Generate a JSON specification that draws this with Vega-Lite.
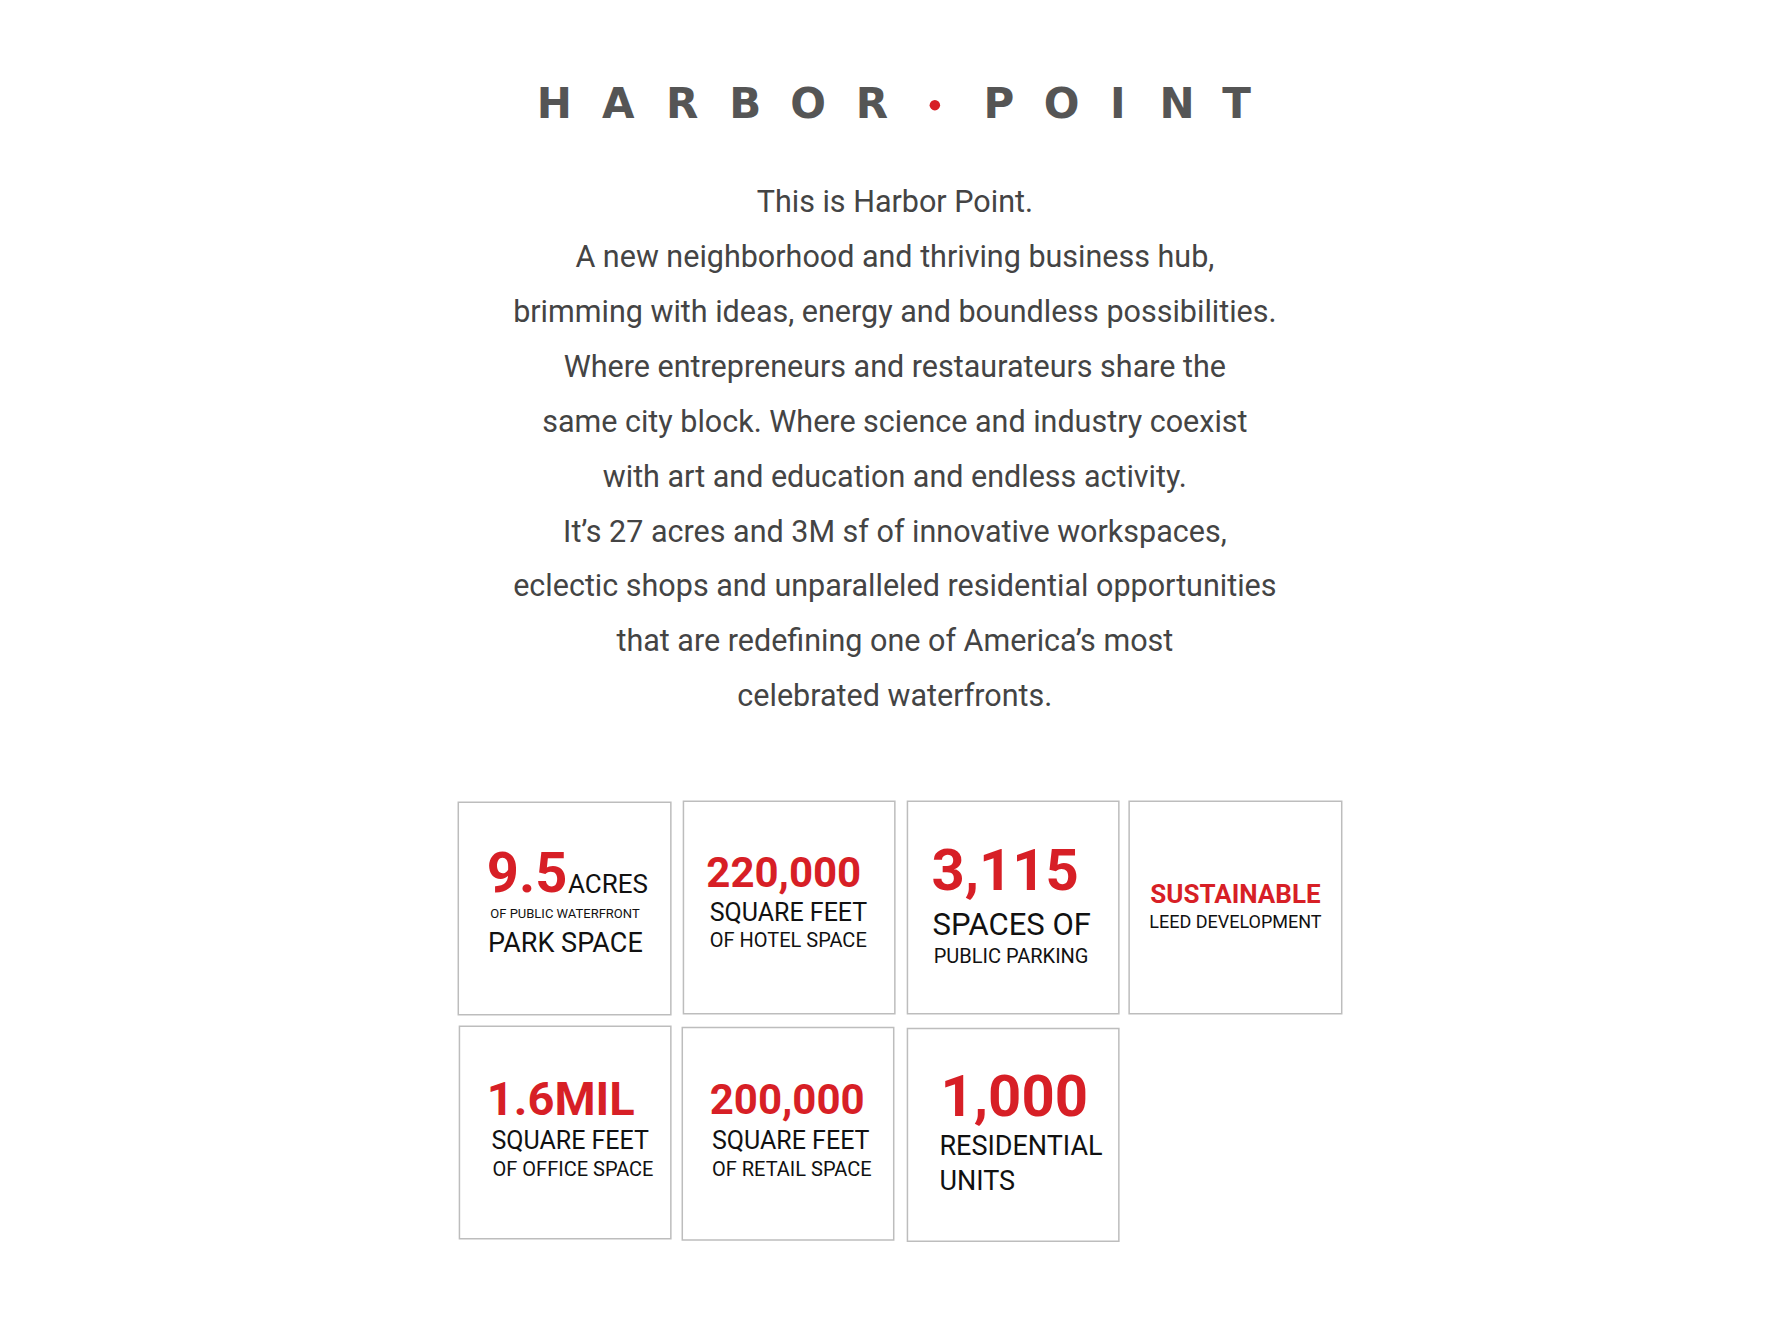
{
  "$schema": "https://vega.github.io/schema/vega-lite/v6.json",
  "width": 1792,
  "height": 1344,
  "autosize": {"type": "fit", "contains": "padding"},
  "padding": 0,
  "background": "white",
  "config": {"view": {"stroke": null}, "text": {"font": "Roboto, sans-serif"}},
  "encoding": {
    "x": {"type": "quantitative", "scale": {"domain": [0, 1568]}, "axis": null},
    "y": {"type": "quantitative", "scale": {"domain": [0, 1176], "reverse": true}, "axis": null}
  },
  "resolve": {"scale": {"size": "independent"}},
  "layer": [
    {
      "data": {"values": [
        {"x0": 401, "x1": 587, "y0": 702, "y1": 888},
        {"x0": 598, "x1": 783, "y0": 701, "y1": 887},
        {"x0": 794, "x1": 979, "y0": 701, "y1": 887},
        {"x0": 988, "x1": 1174, "y0": 701, "y1": 887},
        {"x0": 402, "x1": 587, "y0": 898, "y1": 1084},
        {"x0": 597, "x1": 782, "y0": 899, "y1": 1085},
        {"x0": 794, "x1": 979, "y0": 900, "y1": 1086}
      ]},
      "mark": {"type": "rect", "fill": "white", "stroke": "#bdbdbd", "strokeWidth": 1.5},
      "encoding": {
        "x": {"field": "x0", "type": "quantitative"},
        "x2": {"field": "x1"},
        "y": {"field": "y0", "type": "quantitative"},
        "y2": {"field": "y1"}
      }
    },
    {
      "data": {"values": [
        {"ch": "H", "x": 485}, {"ch": "A", "x": 541}, {"ch": "R", "x": 597},
        {"ch": "B", "x": 652}, {"ch": "O", "x": 707}, {"ch": "R", "x": 763},
        {"ch": "P", "x": 874}, {"ch": "O", "x": 929}, {"ch": "I", "x": 978},
        {"ch": "N", "x": 1030}, {"ch": "T", "x": 1082}
      ]},
      "mark": {"type": "text", "font": "DejaVu Sans", "fontWeight": "bold", "fontSize": 42, "fill": "#555555", "align": "center", "baseline": "middle"},
      "encoding": {
        "x": {"field": "x", "type": "quantitative"},
        "y": {"datum": 92, "type": "quantitative"},
        "text": {"field": "ch"}
      }
    },
    {
      "data": {"values": [{"x": 818, "y": 92}]},
      "mark": {"type": "point", "filled": true, "fill": "#d71f26", "opacity": 1, "size": 110, "shape": "circle"},
      "encoding": {
        "x": {"field": "x", "type": "quantitative"},
        "y": {"field": "y", "type": "quantitative"}
      }
    },
    {
      "data": {"values": [
        {"t": "This is Harbor Point.", "y": 178},
        {"t": "A new neighborhood and thriving business hub,", "y": 226},
        {"t": "brimming with ideas, energy and boundless possibilities.", "y": 274},
        {"t": "Where entrepreneurs and restaurateurs share the", "y": 322},
        {"t": "same city block. Where science and industry coexist", "y": 370},
        {"t": "with art and education and endless activity.", "y": 418},
        {"t": "It’s 27 acres and 3M sf of innovative workspaces,", "y": 466},
        {"t": "eclectic shops and unparalleled residential opportunities", "y": 514},
        {"t": "that are redefining one of America’s most", "y": 562},
        {"t": "celebrated waterfronts.", "y": 610}
      ]},
      "mark": {"type": "text", "fontSize": 30.5, "fill": "#444444", "align": "center", "baseline": "middle"},
      "encoding": {
        "x": {"datum": 783, "type": "quantitative"},
        "y": {"field": "y", "type": "quantitative"},
        "text": {"field": "t"}
      }
    },
    {
      "data": {"values": [
        {"t": "9.5", "x": 426, "y": 766, "tier": "n1"},
        {"t": "220,000", "x": 618, "y": 765, "tier": "n2"},
        {"t": "3,115", "x": 815, "y": 764, "tier": "n3"},
        {"t": "1.6MIL", "x": 426, "y": 963, "tier": "n4"},
        {"t": "200,000", "x": 621, "y": 963, "tier": "n2"},
        {"t": "1,000", "x": 823, "y": 962, "tier": "n5"}
      ]},
      "mark": {"type": "text", "fontWeight": "bold", "fill": "#d71f26", "align": "left", "baseline": "middle"},
      "encoding": {
        "x": {"field": "x", "type": "quantitative"},
        "y": {"field": "y", "type": "quantitative"},
        "text": {"field": "t"},
        "size": {"field": "tier", "type": "nominal", "legend": null,
          "scale": {"type": "ordinal", "domain": ["n1", "n2", "n3", "n4", "n5"], "range": [56, 42, 58, 47, 58]}}
      }
    },
    {
      "data": {"values": [
        {"t": "ACRES", "x": 497, "y": 774, "tier": "lab-l"},
        {"t": "OF PUBLIC WATERFRONT", "x": 429, "y": 800, "tier": "lab-xs"},
        {"t": "PARK SPACE", "x": 427, "y": 826, "tier": "lab-xl"},
        {"t": "SQUARE FEET", "x": 621, "y": 799, "tier": "lab-m"},
        {"t": "OF HOTEL SPACE", "x": 621, "y": 823, "tier": "lab-s"},
        {"t": "SPACES OF", "x": 816, "y": 810, "tier": "lab-xxl"},
        {"t": "PUBLIC PARKING", "x": 817, "y": 837, "tier": "lab-s"},
        {"t": "SQUARE FEET", "x": 430, "y": 998, "tier": "lab-m"},
        {"t": "OF OFFICE SPACE", "x": 431, "y": 1024, "tier": "lab-s"},
        {"t": "SQUARE FEET", "x": 623, "y": 998, "tier": "lab-m"},
        {"t": "OF RETAIL SPACE", "x": 623, "y": 1024, "tier": "lab-s"},
        {"t": "RESIDENTIAL", "x": 822, "y": 1004, "tier": "lab-xl"},
        {"t": "UNITS", "x": 822, "y": 1034, "tier": "lab-xl"}
      ]},
      "mark": {"type": "text", "fill": "#111111", "align": "left", "baseline": "middle"},
      "encoding": {
        "x": {"field": "x", "type": "quantitative"},
        "y": {"field": "y", "type": "quantitative"},
        "text": {"field": "t"},
        "size": {"field": "tier", "type": "nominal", "legend": null,
          "scale": {"type": "ordinal", "domain": ["lab-xs", "lab-s", "lab-m", "lab-l", "lab-xl", "lab-xxl"], "range": [13, 20, 25, 26, 27, 31]}}
      }
    },
    {
      "data": {"values": [{"t": "SUSTAINABLE", "x": 1081, "y": 783}]},
      "mark": {"type": "text", "fontWeight": "bold", "fontSize": 26, "fill": "#d71f26", "align": "center", "baseline": "middle"},
      "encoding": {
        "x": {"field": "x", "type": "quantitative"},
        "y": {"field": "y", "type": "quantitative"},
        "text": {"field": "t"}
      }
    },
    {
      "data": {"values": [{"t": "LEED DEVELOPMENT", "x": 1081, "y": 808}]},
      "mark": {"type": "text", "fontSize": 18, "fill": "#111111", "align": "center", "baseline": "middle"},
      "encoding": {
        "x": {"field": "x", "type": "quantitative"},
        "y": {"field": "y", "type": "quantitative"},
        "text": {"field": "t"}
      }
    }
  ]
}
